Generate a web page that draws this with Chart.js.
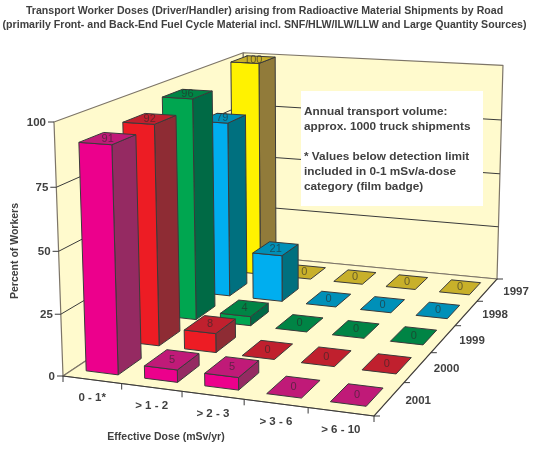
<!DOCTYPE html>
<html>
<head>
<meta charset="utf-8">
<script src="https://cdn.jsdelivr.net/npm/chart.js@4/dist/chart.umd.js"></script>
<style>
  html, body { margin: 0; padding: 0; background: #fff; }
  canvas { display: block; }
</style>
</head>
<body>
<canvas id="myChart" width="536" height="454"></canvas>
<script>
const doses = ['0 - 1*', '> 1 - 2', '> 2 - 3', '> 3 - 6', '> 6 - 10'];
const years = ['1997', '1998', '1999', '2000', '2001'];
const yTicks = [0, 25, 50, 75, 100];

const values2001 = [91, 5, 5, 0, 0];
const values2000 = [92, 8, 0, 0, 0];
const values1999 = [96, 4, 0, 0, 0];
const values1998 = [79, 21, 0, 0, 0];
const values1997 = [100, 0, 0, 0, 0];

const titleLines = [
  'Transport Worker Doses (Driver/Handler) arising from Radioactive Material Shipments by Road',
  '(primarily Front- and Back-End Fuel Cycle Material incl. SNF/HLW/ILW/LLW and Large Quantity Sources)'
];
const noteLines = [
  'Annual transport volume:',
  'approx. 1000 truck shipments',
  '',
  '* Values below detection limit',
  'included in 0-1 mSv/a-dose',
  'category (film badge)'
];

const TEXT = '#404040';
const BAR_FRACTION = 0.55;

// camera: where the floor corners and the top of the left wall land on the canvas
const floor = [[63, 376], [374, 416], [497, 279], [245, 255]];
const wallTop = [54, 122];
const rise = -0.036;

function makeCamera() {
  const [p0, p1, p2, p3] = floor;
  const sx = p0[0] - p1[0] + p2[0] - p3[0];
  const sy = p0[1] - p1[1] + p2[1] - p3[1];
  const dx1 = p1[0] - p2[0], dx2 = p3[0] - p2[0];
  const dy1 = p1[1] - p2[1], dy2 = p3[1] - p2[1];
  const det = dx1 * dy2 - dx2 * dy1;
  const g = (sx * dy2 - dx2 * sy) / det;
  const h = (dx1 * sy - sx * dy1) / det;
  const a = p1[0] - p0[0] + g * p1[0], b = p3[0] - p0[0] + h * p3[0], c = p0[0];
  const d = p1[1] - p0[1] + g * p1[1], e = p3[1] - p0[1] + h * p3[1], f = p0[1];
  const m = wallTop[0] * (rise + 1) - c;
  const n = wallTop[1] * (rise + 1) - f;
  return (u, v, w) => {
    const q = g * u + h * v + rise * w + 1;
    return [(a * u + b * v + m * w + c) / q, (d * u + e * v + n * w + f) / q];
  };
}
const project = makeCamera();

// scale pixel -> 0..1 position on the axis
const across = (chart, value) => (chart.scales.x.getPixelForValue(value) - chart.scales.x.left) / chart.scales.x.width;
const deep = (chart, value) => (chart.scales.z.bottom - chart.scales.z.getPixelForValue(value)) / chart.scales.z.height;
const up = (chart, value) => (chart.scales.y.bottom - chart.scales.y.getPixelForValue(value)) / chart.scales.y.height;

function face(ctx, pts, fill, stroke, width) {
  ctx.beginPath();
  pts.forEach((p, i) => i ? ctx.lineTo(p[0], p[1]) : ctx.moveTo(p[0], p[1]));
  ctx.closePath();
  if (fill) {
    ctx.fillStyle = fill;
    ctx.fill();
  }
  ctx.strokeStyle = stroke;
  ctx.lineWidth = width;
  ctx.lineJoin = 'round';
  ctx.stroke();
}

function line(ctx, a, b, color, width) {
  ctx.beginPath();
  ctx.moveTo(a[0], a[1]);
  ctx.lineTo(b[0], b[1]);
  ctx.strokeStyle = color;
  ctx.lineWidth = width;
  ctx.stroke();
}

class Bar3DController extends Chart.BarController {
  draw() {
    const chart = this.chart;
    const ctx = chart.ctx;
    const ds = this.getDataset();
    const du = BAR_FRACTION / doses.length / 2;
    const dv = BAR_FRACTION / years.length / 2;
    const v = deep(chart, years.indexOf(ds.label));

    ds.data.forEach((value, i) => {
      const u = across(chart, i);
      const w = up(chart, value);
      const a0 = project(u - du, v - dv, 0), b0 = project(u + du, v - dv, 0), c0 = project(u + du, v + dv, 0);
      const a1 = project(u - du, v - dv, w), b1 = project(u + du, v - dv, w), c1 = project(u + du, v + dv, w);
      const d1 = project(u - du, v + dv, w);

      if (value > 0) {
        face(ctx, [b0, c0, c1, b1], ds.sideColor, '#3a3a3a', 1);
        face(ctx, [a0, b0, b1, a1], ds.backgroundColor, '#3a3a3a', 1);
      }
      face(ctx, [a1, b1, c1, d1], ds.topColor, '#3a3a3a', 1);

      const mid = project(u, v, w);
      ctx.font = '11px "Liberation Sans"';
      ctx.fillStyle = 'rgba(40,40,40,0.62)';
      ctx.textAlign = 'center';
      ctx.textBaseline = 'middle';
      ctx.fillText(String(value), mid[0], mid[1]);
    });
  }
}
Bar3DController.id = 'bar3d';
Bar3DController.defaults = Chart.BarController.defaults;
Chart.register(Bar3DController);

const wallsPlugin = {
  id: 'walls',
  beforeDatasetsDraw(chart) {
    const ctx = chart.ctx;
    const edge = '#7d7568';
    const wall = '#fffacd';

    // left wall, back wall, floor
    face(ctx, [project(0, 0, 0), project(0, 1, 0), project(0, 1, 1), project(0, 0, 1)], wall, edge, 1.2);
    face(ctx, [project(0, 1, 0), project(1, 1, 0), project(1, 1, 1), project(0, 1, 1)], wall, edge, 1.2);
    face(ctx, [project(0, 0, 0), project(1, 0, 0), project(1, 1, 0), project(0, 1, 0)], wall, edge, 1.2);

    chart.scales.y.ticks.forEach(t => {
      const w = up(chart, t.value);
      const left = project(0, 0, w);
      if (t.value > 0 && t.value < 100) {
        line(ctx, left, project(0, 1, w), '#3a3a3a', 1);
        line(ctx, project(0, 1, w), project(1, 1, w), '#3a3a3a', 1);
      }
      line(ctx, [left[0] - 6, left[1]], left, '#3a3a3a', 1);
      ctx.font = 'bold 11.5px "Liberation Sans"';
      ctx.fillStyle = TEXT;
      ctx.textAlign = 'right';
      ctx.textBaseline = 'middle';
      ctx.fillText(String(t.value), left[0] - 8, left[1] + 1);
    });

    // front and right floor edges with their ticks
    line(ctx, project(0, 0, 0), project(1, 0, 0), '#3a3a3a', 1);
    line(ctx, project(1, 0, 0), project(1, 1, 0), '#3a3a3a', 1);
    for (let i = 0; i <= doses.length; i++) {
      const p = project(i / doses.length, 0, 0);
      line(ctx, p, [p[0], p[1] + 6], '#3a3a3a', 1);
    }
    for (let i = 0; i <= years.length; i++) {
      const p = project(1, i / years.length, 0);
      line(ctx, p, [p[0] + 6, p[1]], '#3a3a3a', 1);
    }

    ctx.font = 'bold 11.5px "Liberation Sans"';
    ctx.fillStyle = TEXT;
    ctx.textBaseline = 'middle';
    ctx.textAlign = 'center';
    doses.forEach((label, i) => {
      const p = project(across(chart, i), 0, 0);
      ctx.fillText(label, p[0], p[1] + 18.5);
    });
    ctx.textAlign = 'left';
    years.forEach((label, i) => {
      const p = project(1, deep(chart, i), 0);
      ctx.fillText(label, p[0] + 16, p[1] + 1.5);
    });

    ctx.font = 'bold 10.5px "Liberation Sans"';
    ctx.textAlign = 'center';
    ctx.fillText('Effective Dose (mSv/yr)', 166, 437);
    ctx.save();
    ctx.translate(15, 251);
    ctx.rotate(-Math.PI / 2);
    ctx.fillText('Percent of Workers', 0, 0);
    ctx.restore();

    // note box
    ctx.fillStyle = '#fff';
    ctx.fillRect(301, 91, 182, 115);
    ctx.font = 'bold 11.8px "Liberation Sans"';
    ctx.fillStyle = TEXT;
    ctx.textAlign = 'left';
    noteLines.forEach((text, i) => ctx.fillText(text, 304, 111.5 + i * 15));
  }
};

new Chart(document.getElementById('myChart'), {
  type: 'bar3d',
  data: {
    labels: doses,
    datasets: [
      { label: '2001', data: values2001, backgroundColor: '#ec008c', sideColor: '#952a62', topColor: '#c01a78', clip: false },
      { label: '2000', data: values2000, backgroundColor: '#ed1c24', sideColor: '#8e2c34', topColor: '#c0202e', clip: false },
      { label: '1999', data: values1999, backgroundColor: '#00a650', sideColor: '#006a45', topColor: '#008445', clip: false },
      { label: '1998', data: values1998, backgroundColor: '#00aeef', sideColor: '#00707f', topColor: '#0090b8', clip: false },
      { label: '1997', data: values1997, backgroundColor: '#fff200', sideColor: '#917b3a', topColor: '#c8b02a', clip: false }
    ]
  },
  options: {
    responsive: false,
    animation: false,
    layout: { padding: { right: 7 } },
    plugins: {
      legend: { display: false },
      tooltip: { enabled: false },
      title: {
        display: true,
        text: titleLines,
        color: TEXT,
        font: { family: '"Liberation Sans"', size: 10.6, weight: 'bold', lineHeight: 1.33 },
        padding: { top: 4, bottom: 10 }
      }
    },
    scales: {
      x: { type: 'category', display: false },
      y: { type: 'linear', display: false, min: 0, max: 100, afterBuildTicks: s => { s.ticks = yTicks.map(value => ({ value })); } },
      z: { type: 'category', display: false, labels: years, position: 'right', axis: 'y', offset: true }
    }
  },
  plugins: [wallsPlugin]
});
</script>
</body>
</html>
